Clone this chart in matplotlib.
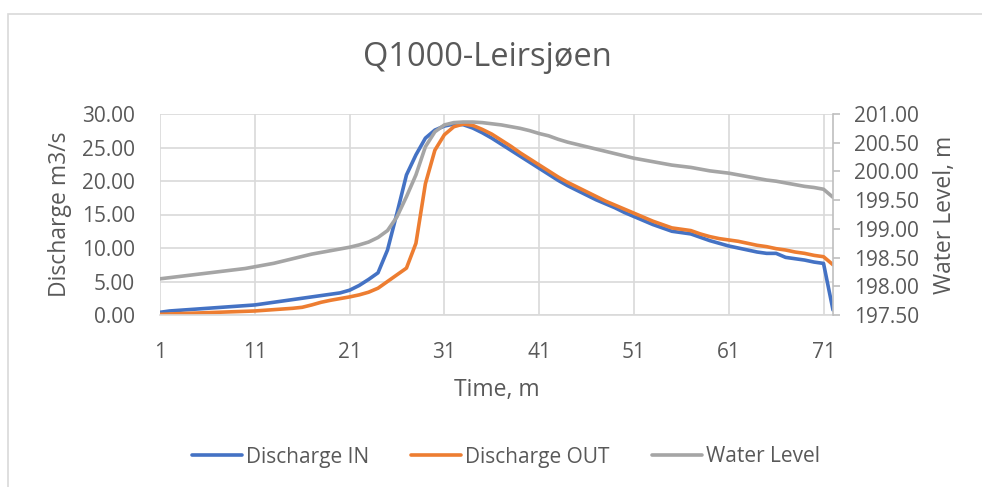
import matplotlib.pyplot as plt
from matplotlib.patches import Rectangle

# time steps 1..72
time = list(range(1, 73))

discharge_in = [0.4, 0.6, 0.7, 0.8, 0.9, 1.0, 1.1, 1.2, 1.3, 1.4,
                1.5, 1.7, 1.9, 2.1, 2.3, 2.5, 2.7, 2.9, 3.1, 3.3,
                3.7, 4.4, 5.3, 6.3, 9.7, 15.2, 20.9, 23.9, 26.4, 27.6,
                28.2, 28.5, 28.4, 27.9, 27.2, 26.4, 25.5, 24.6, 23.7, 22.8,
                21.9, 21.0, 20.1, 19.3, 18.6, 17.9, 17.2, 16.6, 16.0, 15.3,
                14.7, 14.1, 13.5, 13.0, 12.5, 12.3, 12.1, 11.6, 11.1, 10.7,
                10.3, 10.0, 9.7, 9.4, 9.2, 9.2, 8.6, 8.4, 8.2, 7.9,
                7.7, 0.75]

discharge_out = [0.1, 0.15, 0.2, 0.25, 0.3, 0.35, 0.4, 0.45, 0.5, 0.55,
                 0.6, 0.7, 0.8, 0.9, 1.0, 1.15, 1.5, 1.9, 2.2, 2.45,
                 2.7, 3.0, 3.4, 4.0, 5.0, 6.0, 7.0, 10.7, 19.6, 24.6,
                 26.9, 28.1, 28.5, 28.3, 27.7, 27.0, 26.1, 25.2, 24.2, 23.3,
                 22.4, 21.5, 20.6, 19.8, 19.1, 18.4, 17.7, 17.0, 16.4, 15.8,
                 15.2, 14.6, 14.0, 13.5, 13.0, 12.8, 12.6, 12.1, 11.7, 11.4,
                 11.2, 11.0, 10.7, 10.4, 10.2, 9.9, 9.7, 9.4, 9.2, 8.9,
                 8.7, 7.5]

water_level = [198.13, 198.15, 198.17, 198.19, 198.21, 198.23, 198.25, 198.27, 198.29, 198.31,
               198.34, 198.37, 198.40, 198.44, 198.48, 198.52, 198.56, 198.59, 198.62, 198.65,
               198.68, 198.72, 198.77, 198.85, 198.97, 199.21, 199.56, 199.94, 200.43, 200.69,
               200.81, 200.85, 200.86, 200.86, 200.85, 200.83, 200.81, 200.78, 200.75, 200.71,
               200.66, 200.62, 200.56, 200.51, 200.47, 200.43, 200.39, 200.35, 200.31, 200.27,
               200.23, 200.20, 200.17, 200.14, 200.11, 200.09, 200.07, 200.04, 200.01, 199.99,
               199.97, 199.94, 199.91, 199.88, 199.85, 199.83, 199.80, 199.77, 199.74, 199.72,
               199.69, 199.55]

x_ticks = [1, 11, 21, 31, 41, 51, 61, 71]
left_ticks = [0, 5, 10, 15, 20, 25, 30]
right_ticks = [197.5, 198.0, 198.5, 199.0, 199.5, 200.0, 200.5, 201.0]

BLUE = "#4472C4"
ORANGE = "#ED7D31"
GRAY = "#A5A5A5"
TXT = "#595959"
GRID = "#D9D9D9"

plt.rcParams["font.family"] = ["Open Sans", "DejaVu Sans"]

W, H = 982, 487
fig = plt.figure(figsize=(W / 100, H / 100), dpi=100)
# light chart-area border (left and top edges visible)
fig.patches.append(Rectangle((8 / W, -0.1), 1.1, (H - 14) / H + 0.1,
                             transform=fig.transFigure, fill=False,
                             edgecolor=GRID, linewidth=1.2))

ax = fig.add_axes([160 / W, 1 - 315 / H, (833 - 160) / W, (315 - 114) / H])
ax2 = ax.twinx()

l1, = ax.plot(time, discharge_in, color=BLUE, lw=2.6, label="Discharge IN", solid_capstyle="round")
l2, = ax.plot(time, discharge_out, color=ORANGE, lw=2.6, label="Discharge OUT", solid_capstyle="round")
l3, = ax2.plot(time, water_level, color=GRAY, lw=2.6, label="Water Level", solid_capstyle="round")

ax.set_xlim(1, 72)
ax.set_ylim(0, 30)
ax2.set_ylim(197.5, 201)
ax.set_xticks(x_ticks)
ax.set_yticks(left_ticks)
ax2.set_yticks(right_ticks)
ax.set_yticklabels([f"{v:.2f}" for v in left_ticks])
ax2.set_yticklabels([f"{v:.2f}" for v in right_ticks])

ax.grid(True, color=GRID, lw=1.2)
ax.set_axisbelow(True)
for s in ["top", "right", "left"]:
    ax.spines[s].set_visible(False)
    ax2.spines[s].set_visible(False)
ax.spines["bottom"].set_color(GRID)
ax.spines["bottom"].set_linewidth(1.2)
ax2.spines["bottom"].set_visible(False)
ax2.spines["right"].set_visible(True)
ax2.spines["right"].set_color("#BFBFBF")
ax2.spines["right"].set_linewidth(1.2)

ax.tick_params(axis="x", length=0, pad=19.5, labelsize=15, labelcolor=TXT)
ax.tick_params(axis="y", length=0, pad=18, labelsize=15, labelcolor=TXT)
ax2.tick_params(axis="y", length=5, width=1.2, color="#BFBFBF", pad=10, labelsize=15, labelcolor=TXT)

ax.set_xlabel("Time, m", fontsize=16.5, color=TXT, labelpad=11)
ax.set_ylabel("Discharge m3/s", fontsize=16.5, color=TXT, labelpad=7)
ax2.set_ylabel("Water Level, m", fontsize=16.5, color=TXT, labelpad=10)

fig.text(487 / W, 1 - 57 / H, "Q1000-Leirsjøen", ha="center", va="center", fontsize=23.5, color=TXT)

fig.legend(handles=[l1, l2, l3], loc="center", bbox_to_anchor=(506 / W, 1 - 457 / H),
           ncol=3, frameon=False, fontsize=15, handlelength=2.4, handletextpad=0.2,
           columnspacing=2.0, labelcolor=TXT)

fig.savefig("out.png", dpi=100)
